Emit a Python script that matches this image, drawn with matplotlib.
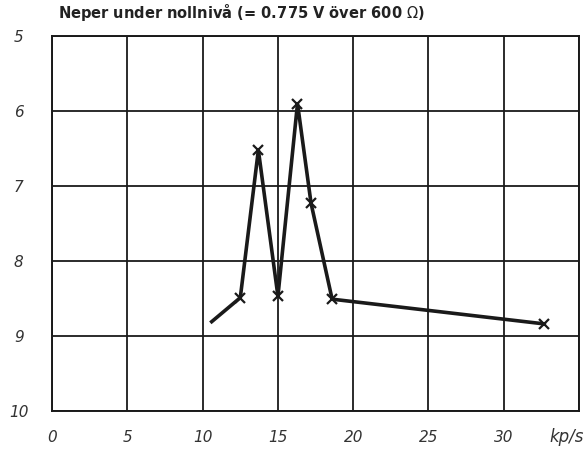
import matplotlib
matplotlib.use("Agg")
import matplotlib.pyplot as plt
import matplotlib.transforms as mtransforms

# frequency (kp/s) and level (neper below zero level)
freq = [10.6, 12.5, 13.7, 15.0, 16.3, 17.2, 18.6, 32.7]
neper = [8.81, 8.49, 6.52, 8.47, 5.90, 7.23, 8.51, 8.84]
x_ticks = [0, 5, 10, 15, 20, 25, 30]
y_ticks = [5, 6, 7, 8, 9, 10]

INK = "#1a1a1a"

fig = plt.figure(figsize=(5.86, 4.51), dpi=100)
ax = fig.add_axes([0.089, 0.089, 0.899, 0.831])

ax.set_xlim(0, 35)
ax.set_ylim(10, 5)
ax.set_xticks(x_ticks + [35])
ax.set_xticklabels([str(v) for v in x_ticks] + [""])
ax.set_yticks(y_ticks)
ax.set_yticklabels([str(v) for v in y_ticks])
ax.grid(True, color=INK, linewidth=1.3)
for spine in ax.spines.values():
    spine.set_color(INK)
    spine.set_linewidth(1.4)

ax.tick_params(axis="both", length=0, colors="#333333", labelsize=11)
ax.tick_params(axis="x", pad=14)
ax.tick_params(axis="y", pad=24)
for lab in ax.get_xticklabels() + ax.get_yticklabels():
    lab.set_fontstyle("italic")
for lab in ax.get_yticklabels():
    lab.set_horizontalalignment("center")

ax.plot(freq, neper, color=INK, linewidth=2.6, solid_joinstyle="miter", zorder=3)
ax.plot(freq[1:], neper[1:], linestyle="none", marker="x", markersize=7,
        markeredgewidth=1.6, color=INK, zorder=4)

trans = mtransforms.blended_transform_factory(ax.transData, ax.transAxes)
ax.text(35.3, -0.07, "kp/s", transform=trans, ha="right", va="center",
        fontsize=12, fontstyle="italic", color="#333333", clip_on=False)

fig.text(0.099, 0.972, "Neper under nollnivå (= 0.775 V över 600 $\\mathit{\\Omega}$)",
         ha="left", va="center", fontsize=10.5, fontweight="bold", color="#222222")

fig.savefig("out.png", dpi=100, facecolor="white")
